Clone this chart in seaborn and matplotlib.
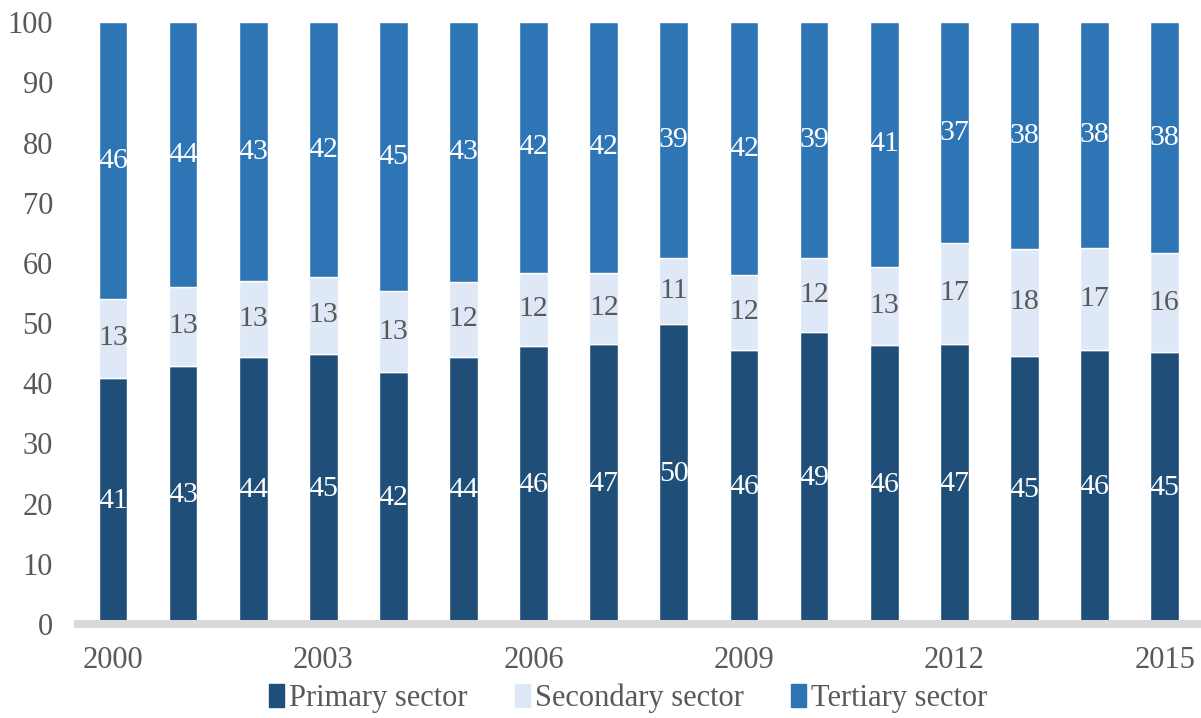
import matplotlib
matplotlib.use("Agg")
import matplotlib.pyplot as plt
import seaborn as sns
import pandas as pd

# Sector shares (%) by year
years = [str(y) for y in range(2000, 2016)]
primary = [40.9, 42.9, 44.4, 44.9, 41.9, 44.4, 46.2, 46.6, 49.9, 45.6, 48.6, 46.3, 46.6, 44.6, 45.6, 45.2]
secondary = [13.1, 13.1, 12.6, 12.8, 13.4, 12.4, 12.2, 11.8, 10.9, 12.4, 12.2, 13.1, 16.7, 17.7, 16.8, 16.4]
tertiary = [46.0, 44.0, 43.0, 42.3, 44.7, 43.2, 41.6, 41.6, 39.2, 42.0, 39.2, 40.6, 36.7, 37.7, 37.6, 38.4]
shown_years = ["2000", "2003", "2006", "2009", "2012", "2015"]

sectors = ["Primary sector", "Secondary sector", "Tertiary sector"]
colors = ["#1F4E79", "#DEE8F6", "#2E75B6"]
label_colors = ["white", "#595959", "white"]
text_color = "#595959"

sns.set_style("white")
plt.rcParams["font.family"] = ["Liberation Serif", "DejaVu Serif"]

df = pd.DataFrame({"year": years, "Primary sector": primary,
                   "Secondary sector": secondary, "Tertiary sector": tertiary})

fig = plt.figure(figsize=(12.01, 7.18), dpi=100)
ax = fig.add_axes([0.0649, 0.131, 0.934, 0.838])

# stack the three sectors on top of each other
bottom = [0.0] * len(years)
for name, col, lcol in zip(sectors, colors, label_colors):
    sns.barplot(data=df, x="year", y=name, color=col, width=0.41,
                bottom=bottom, ax=ax, label=name, saturation=1)
    bars = ax.containers[-1]
    ax.bar_label(bars, fmt="%.0f", label_type="center", color=lcol, fontsize=21.5)
    bottom = [b + v for b, v in zip(bottom, df[name])]

ax.set_xlim(-0.5, 15.5)
ax.set_ylim(0, 100)
ax.set_yticks(range(0, 101, 10))
ax.set_xticks([years.index(y) for y in shown_years])
ax.set_xticklabels(shown_years)
ax.set_xlabel("")
ax.set_ylabel("")
ax.tick_params(axis="y", length=0, pad=18, labelsize=22, labelcolor=text_color)
ax.tick_params(axis="x", length=0, pad=16, labelsize=22, labelcolor=text_color)

for s in ["top", "right", "left"]:
    ax.spines[s].set_visible(False)
ax.spines["bottom"].set_color("#D9D9D9")
ax.spines["bottom"].set_linewidth(5.8)
ax.spines["bottom"].set_zorder(5)

if ax.get_legend():
    ax.get_legend().remove()
handles = [plt.Rectangle((0, 0), 1, 1, color=c) for c in colors]
fig.legend(handles, sectors, loc="center", bbox_to_anchor=(0.523, 0.027),
           ncol=3, frameon=False, fontsize=22, labelcolor=text_color,
           handlelength=0.5, handleheight=0.8, handletextpad=0.15,
           columnspacing=1.55)

fig.savefig("out.png", dpi=100)
